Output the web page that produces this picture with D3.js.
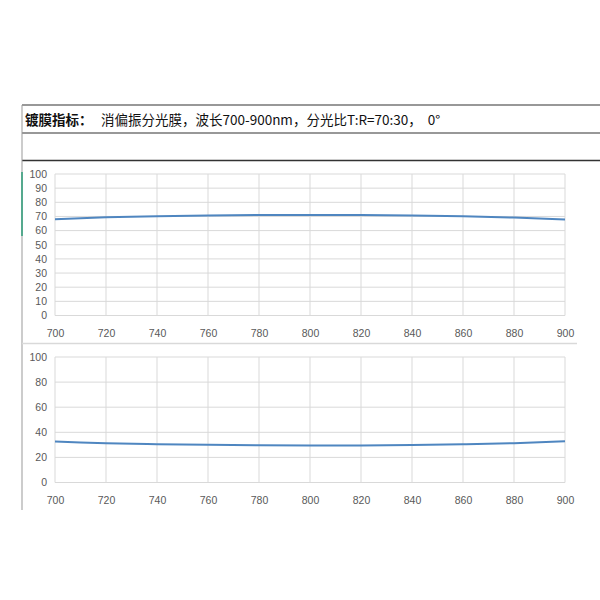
<!DOCTYPE html>
<html><head><meta charset="utf-8">
<script src="https://cdn.jsdelivr.net/npm/d3@7"></script>
<style>body{margin:0;background:#fff}svg{display:block}</style>
</head><body>
<svg id="c" width="600" height="600"></svg>
<script>
const titleBold = "镀膜指标：";
const titleRest = "消偏振分光膜，波长700-900nm，分光比T:R=70:30，  0°";
const wavelengths = [700, 710, 720, 740, 760, 780, 800, 820, 840, 860, 880, 890, 900];
const transmission = [68.0, 68.8, 69.4, 70.2, 70.7, 71.0, 71.1, 71.0, 70.7, 70.1, 69.2, 68.6, 67.8];
const reflection = [32.6, 31.8, 31.2, 30.5, 30.0, 29.6, 29.4, 29.5, 29.8, 30.4, 31.3, 32.0, 32.8];
const xTicks = [700, 720, 740, 760, 780, 800, 820, 840, 860, 880, 900];
const yTicks1 = [0, 10, 20, 30, 40, 50, 60, 70, 80, 90, 100];
const yTicks2 = [0, 20, 40, 60, 80, 100];

const svg = d3.select("#c");
const font = "'Noto Sans CJK SC','Noto Sans',sans-serif";

// frame lines
svg.append("line").attr("x1",22).attr("x2",600).attr("y1",105).attr("y2",105).attr("stroke","#333").attr("stroke-width",1.2);
svg.append("line").attr("x1",22).attr("x2",600).attr("y1",133).attr("y2",133).attr("stroke","#333").attr("stroke-width",1.2);
svg.append("line").attr("x1",22).attr("x2",600).attr("y1",160.5).attr("y2",160.5).attr("stroke","#333").attr("stroke-width",1.5);
svg.append("line").attr("x1",22).attr("x2",22).attr("y1",105).attr("y2",510).attr("stroke","#999").attr("stroke-width",1);
svg.append("line").attr("x1",22).attr("x2",22).attr("y1",172).attr("y2",236).attr("stroke","#2e9e7a").attr("stroke-width",1.5);
svg.append("line").attr("x1",22).attr("x2",577).attr("y1",343.5).attr("y2",343.5).attr("stroke","#d9d9d9").attr("stroke-width",1.5);

// title
const t = svg.append("text").attr("x",25).attr("y",125).attr("font-family",font).attr("font-size",13.5).attr("fill","#111");
t.append("tspan").attr("font-weight","bold").text(titleBold);
t.append("tspan").attr("x",101).attr("xml:space","preserve").style("white-space","pre").text(titleRest);

function chart(top, bottom, yTicks, data){
  const x = d3.scaleLinear().domain([700,900]).range([55,565]);
  const y = d3.scaleLinear().domain([0,100]).range([bottom, top]);
  const g = svg.append("g");
  g.selectAll(".vg").data(xTicks).join("line")
    .attr("x1",d=>x(d)).attr("x2",d=>x(d)).attr("y1",top).attr("y2",bottom)
    .attr("stroke","#d9d9d9").attr("stroke-width",1);
  g.selectAll(".hg").data(yTicks).join("line")
    .attr("x1",55).attr("x2",565).attr("y1",d=>y(d)).attr("y2",d=>y(d))
    .attr("stroke","#d9d9d9").attr("stroke-width",1);
  const xa = g.append("g").attr("transform",`translate(0,${bottom+14})`)
    .call(d3.axisBottom(x).tickValues(xTicks).tickSize(0).tickPadding(0));
  xa.select(".domain").remove();
  xa.selectAll("text").attr("font-family","'Liberation Sans',sans-serif").attr("font-size",10.5).attr("fill","#595959");
  const ya = g.append("g").attr("transform",`translate(47,0)`)
    .call(d3.axisLeft(y).tickValues(yTicks).tickSize(0).tickPadding(0));
  ya.select(".domain").remove();
  ya.selectAll("text").attr("font-family","'Liberation Sans',sans-serif").attr("font-size",10.5).attr("fill","#595959");
  const line = d3.line().x((d,i)=>x(wavelengths[i])).y(d=>y(d)).curve(d3.curveMonotoneX);
  g.append("path").datum(data).attr("d",line).attr("fill","none").attr("stroke","#4f86c0").attr("stroke-width",2);
}
chart(174, 315.5, yTicks1, transmission);
chart(357, 482.5, yTicks2, reflection);
</script>
</body></html>
